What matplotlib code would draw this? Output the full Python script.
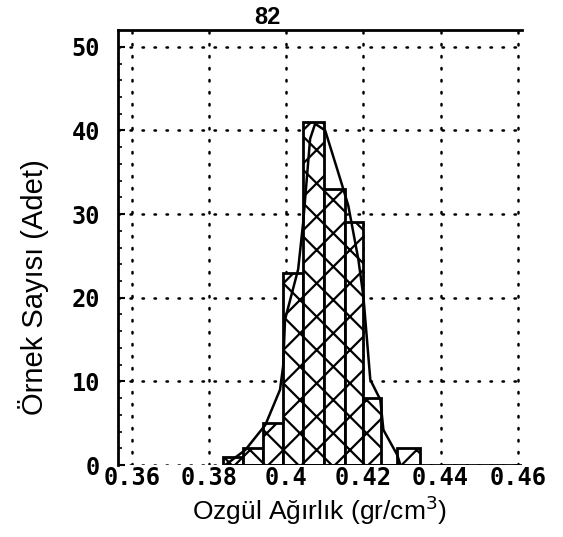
import matplotlib.pyplot as plt
import numpy as np

# histogram bins (gr/cm3) and sample counts
bin_edges = [0.3836, 0.3888, 0.3940, 0.3992, 0.4044, 0.4099, 0.4153, 0.4200, 0.4245, 0.4288, 0.4348]
counts = [1, 2, 5, 23, 41, 33, 29, 8, 0, 2]

# outline curve drawn over the bars
curve_x = [0.3842, 0.3894, 0.3946, 0.3984, 0.3992, 0.3997, 0.4031, 0.4044, 0.4062, 0.4075,
           0.4101, 0.4132, 0.4148, 0.4161, 0.4187, 0.4200, 0.4218, 0.4244, 0.4252, 0.4288, 0.4296]
curve_y = [0, 1.8, 4.8, 9, 11.8, 17.4, 23.4, 29, 39, 40.8,
           40, 35.4, 33, 31, 24.6, 20.2, 10.2, 7.8, 4.2, 1.2, 0]

xticks = [0.36, 0.38, 0.40, 0.42, 0.44, 0.46]
xtick_labels = ["0.36", "0.38", "0.4", "0.42", "0.44", "0.46"]
yticks = [0, 10, 20, 30, 40, 50]

plt.rcParams['hatch.linewidth'] = 1.6

fig = plt.figure(figsize=(5.63, 5.37), dpi=100)
ax = fig.add_axes([0.2096, 0.134, 0.7174, 0.810])

widths = np.diff(bin_edges)
ax.bar(bin_edges[:-1], counts, width=widths, align="edge", color="white",
       edgecolor="black", linewidth=2.0, hatch="x", zorder=3)
ax.plot(curve_x, curve_y, color="black", linewidth=1.8, zorder=4)

ax.set_xlim(0.3564, 0.4611)
ax.set_ylim(0, 52)
ax.hlines(0, bin_edges[0], 0.4611, color="black", linewidth=2.0, zorder=5)

ax.set_xticks(xticks)
ax.set_xticklabels(xtick_labels, fontfamily="DejaVu Sans Mono", fontweight="bold", fontsize=17)
ax.set_yticks(yticks)
ax.set_yticklabels([str(v) for v in yticks], fontfamily="DejaVu Sans Mono",
                   fontweight="bold", fontsize=17)
ax.set_yticks(np.arange(0, 52, 2), minor=True)

ax.tick_params(axis="x", length=0, pad=1)
ax.tick_params(axis="y", which="major", direction="in", length=5, width=1.5, pad=13)
ax.tick_params(axis="y", which="minor", direction="in", length=3, width=1.2)

ax.grid(True, color="black", linestyle=(0, (0.6, 4.2)), linewidth=1.8,
        dash_capstyle="round", zorder=1)
ax.set_axisbelow(True)

ax.spines["right"].set_visible(False)
ax.spines["bottom"].set_visible(False)
ax.spines["left"].set_linewidth(2.0)
ax.spines["top"].set_linewidth(2.0)

ax.set_ylabel("Örnek Sayısı (Adet)", fontfamily="Liberation Sans", fontsize=21)
ax.yaxis.set_label_coords(-0.17, 0.41)
ax.set_xlabel("Ozgül Ağırlık (gr/cm$^3$)", fontfamily="Liberation Sans", fontsize=19, labelpad=2)
ax.text(0.37, 1.003, "82", transform=ax.transAxes, ha="center", va="bottom",
        fontfamily="Liberation Sans", fontsize=17, fontweight="bold")

fig.savefig("out.png", dpi=100)
